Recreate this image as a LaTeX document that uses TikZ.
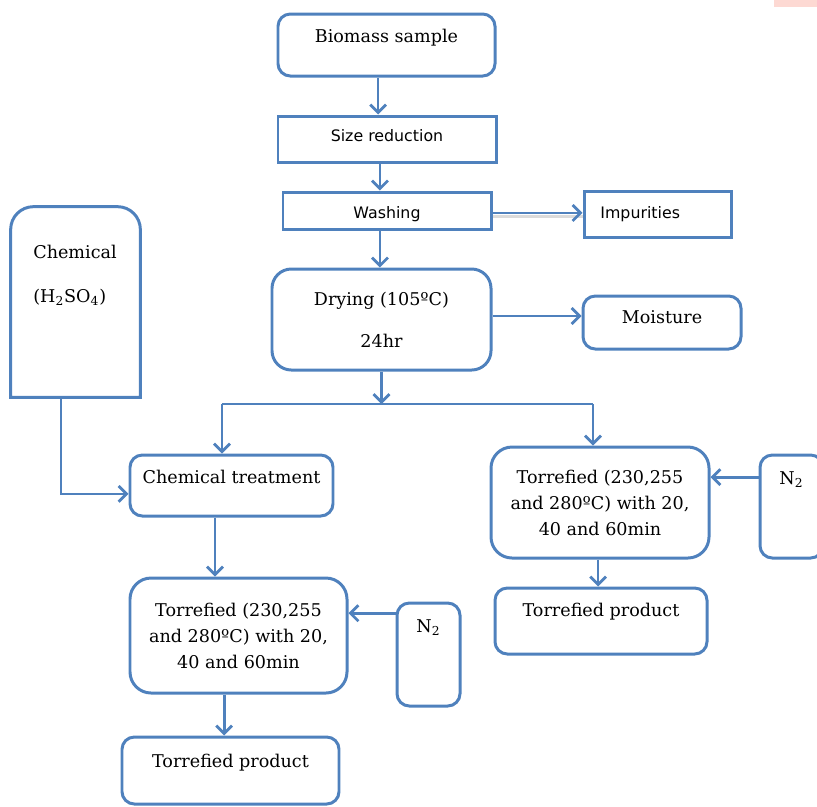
\documentclass[tikz,border=0pt]{standalone}
\usepackage{fontspec}
\setmainfont{DejaVu Serif}
\newfontfamily\boxsans{DejaVu Sans}
\usepackage{xcolor}
\usetikzlibrary{arrows.meta}
\definecolor{flowblue}{RGB}{79,129,189}
\definecolor{cornerpink}{RGB}{253,217,211}
\newcommand{\pxu}{0.02cm}
\tikzset{> = {Straight Barb[length=4.5pt,width=9pt]}}
\tikzset{
  roundbox/.style={draw, line width=1.7pt, rounded corners=7pt, text=black, align=center,
    font=\fontsize{10}{14.8}\selectfont},
  sharpbox/.style={draw, line width=1.7pt, text=black, font=\boxsans\fontsize{9}{11}\selectfont},
  flow/.style={line width=1.6pt, ->},
  shadowed/.style={preaction={draw=black!14, line width=2pt, -, transform canvas={yshift=-2pt}}}
}

\begin{document}
\begin{tikzpicture}[x=\pxu, y=-\pxu, color=flowblue]
		\useasboundingbox (0,0) rectangle (817,806);
		\fill[cornerpink] (774,0) rectangle (817,7);

		% main line
		\node[roundbox, minimum width=217*\pxu, minimum height=62*\pxu, text height=7.5pt, text depth=9.9pt] (biomass) at (386.5,45) {Biomass sample};
		\node[sharpbox, minimum width=218*\pxu, minimum height=46*\pxu, text height=7pt, text depth=4pt] (sizered) at (387,139) {Size reduction};
		\node[sharpbox, minimum width=208*\pxu, minimum height=37*\pxu, text height=9.2pt, text depth=0pt] (wash) at (387,210.5) {Washing};
		\node[sharpbox, minimum width=147*\pxu, minimum height=46*\pxu, text width=65pt, inner xsep=9pt, align=left] (impur) at (657.5,214) {Impurities};
		\node[roundbox, rounded corners=11pt, minimum width=219*\pxu, minimum height=101*\pxu] (dry) at (381.5,319.5) {Drying (105ºC)\\[9pt]24hr};
		\node[roundbox, minimum width=158*\pxu, minimum height=53*\pxu, text height=7.5pt, text depth=6.1pt] (moist) at (662,322.5) {Moisture};

		% chemical branch
		\node[minimum width=129*\pxu, minimum height=190*\pxu, text width=48pt, inner xsep=12.5pt, align=left, text=black,
			font=\fontsize{10}{14.8}\selectfont] (chem) at (75.5,302) {Chemical\\[10.7pt](H\textsubscript{2}SO\textsubscript{4})\\[17.3pt]\mbox{}};
		\draw[line width=1.7pt] (chem.south west) -- ([yshift=-13pt]chem.north west) arc[start angle=180, end angle=90, radius=13pt]
			-- ([xshift=-13pt]chem.north east) arc[start angle=90, end angle=0, radius=13pt] -- (chem.south east) -- cycle;
		\node[roundbox, minimum width=203*\pxu, minimum height=61*\pxu, text height=7.5pt, text depth=9.9pt] (treat) at (231.5,485.5) {Chemical treatment};
		\node[roundbox, rounded corners=12pt, minimum width=217*\pxu, minimum height=115*\pxu] (torleft) at (238.5,635.5) {Torrefied (230,255\\and 280ºC) with 20,\\40 and 60min};
		\node[roundbox, minimum width=63*\pxu, minimum height=103*\pxu, text height=7.5pt, text depth=32.1pt] (ntwoleft) at (428.5,654.5) {N\textsubscript{2}};
		\node[roundbox, minimum width=217*\pxu, minimum height=67*\pxu, text height=7.5pt, text depth=10.5pt] (prodleft) at (230.5,770.5) {Torrefied product};

		% direct branch
		\node[roundbox, rounded corners=12pt, minimum width=218*\pxu, minimum height=111*\pxu] (torright) at (600,502.5) {Torrefied (230,255\\and 280ºC) with 20,\\40 and 60min};
		\node[roundbox, minimum width=63*\pxu, minimum height=103*\pxu, text height=7.5pt, text depth=32.1pt] (ntworight) at (791.5,506.5) {N\textsubscript{2}};
		\node[roundbox, minimum width=212*\pxu, minimum height=66*\pxu, text height=7.5pt, text depth=12.3pt] (prodright) at (601,621) {Torrefied product};

		% connector start points
		\coordinate (bioout) at ([xshift=-4.8pt]biomass.south);
		\coordinate (sizeout) at ([xshift=-4pt]sizered.south);
		\coordinate (washout) at ([xshift=-4pt]wash.south);
		\coordinate (washside) at ([yshift=-1.4pt]wash.east);
		\coordinate (dryside) at ([yshift=2pt]dry.east);
		\coordinate (chemout) at ([xshift=-8.2pt]chem.south);
		\coordinate (treatout) at ([xshift=-9.4pt]treat.south);
		\coordinate (torlout) at ([xshift=-8.2pt]torleft.south);
		\coordinate (torrout) at ([xshift=-1.1pt]torright.south);
		\coordinate (ntwolout) at ([yshift=23.5pt]ntwoleft.west);
		\coordinate (ntwo rout) at ([yshift=16.7pt]ntworight.west);
		\coordinate (split) at (dry.south |- 0,404);
		\coordinate (dropL) at (222,404);
		\coordinate (dropR) at (593,404);

		% connectors
		\draw[flow] (bioout) -- (bioout |- sizered.north);
		\draw[flow] (sizeout) -- (sizeout |- wash.north);
		\draw[flow] (washout) -- (washout |- dry.north);
		\draw[flow, shadowed] (washside) -- (washside -| impur.west);
		\draw[flow] (dryside) -- (dryside -| moist.west);
		\draw[flow] (dry.south) -- (split);
		\draw[line width=1.6pt] (dropL) -- (dropR);
		\draw[flow] (dropL) -- (dropL |- treat.north);
		\draw[flow] (dropR) -- (dropR |- torright.north);
		\draw[flow] (chemout) |- ([yshift=-4.8pt]treat.west);
		\draw[flow] (treatout) -- (treatout |- torleft.north);
		\draw[flow] (ntwolout) -- (ntwolout -| torleft.east);
		\draw[flow] (torlout) -- (torlout |- prodleft.north);
		\draw[flow] (ntwo rout) -- (ntwo rout -| torright.east);
		\draw[flow] (torrout) -- (torrout |- prodright.north);
\end{tikzpicture}
\end{document}
